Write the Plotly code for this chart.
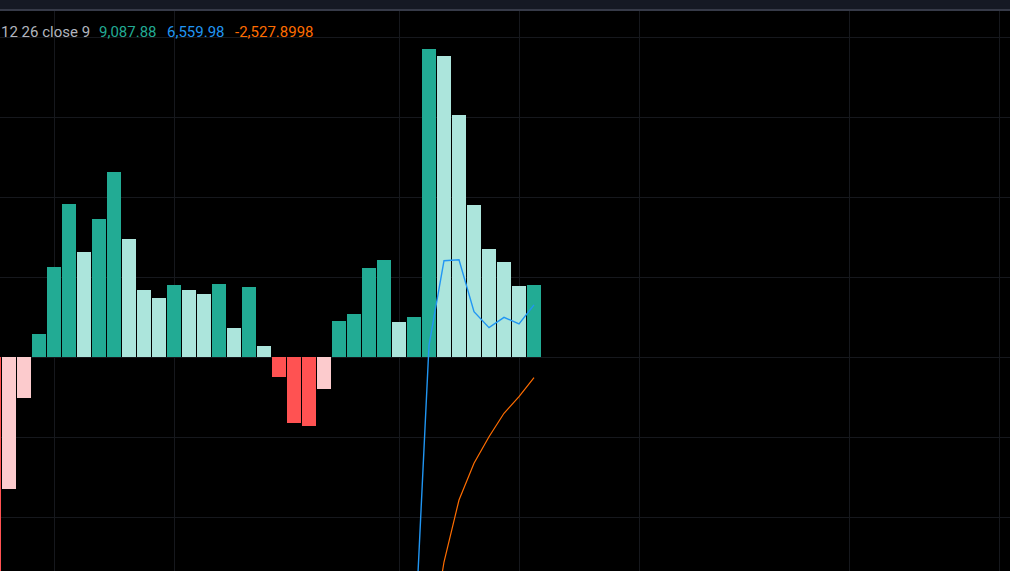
import plotly.graph_objects as go

# ---- data ----
bar_index = list(range(-1, 36))
hist_values = [-30000, -16425, -5050, 2912, 11287, 19162, 13162, 17287, 23162, 14787,
               8412, 7412, 9037, 8412, 7912, 9162, 3662, 8787, 1412, -2425,
               -8175, -8587, -4000, 4537, 5412, 11162, 12162, 4412, 5037, 38537,
               37700, 30287, 19037, 13537, 11912, 8912, 9087.88]
macd_index = list(range(27, 36))
macd_values = [-37300, 1500, 12075, 12200, 5700, 3700, 5000, 4162, 6559.98]
signal_index = list(range(28, 36))
signal_values = [-37037, -25587, -17837, -13250, -9925, -7000, -4925, -2527.8998]
time_grid_bars = [3, 11, 26, 34, 42, 56, 66]
value_grid = [-20000, -10000, 0, 10000, 20000, 30000, 40000]
legend_parts = ["12 26 close 9", "9,087.88", "6,559.98", "-2,527.8998"]

# ---- styles ----
C_GROW_UP = "#22ab94"
C_FALL_UP = "#ace5dc"
C_GROW_DN = "#fccbcd"
C_FALL_DN = "#ff5252"
C_MACD = "#2196f3"
C_SIGNAL = "#ff6d00"

colors = []
prev = None
for v in hist_values:
    if v >= 0:
        c = C_GROW_UP if (prev is None or v > prev) else C_FALL_UP
    else:
        c = C_GROW_DN if (prev is not None and v > prev) else C_FALL_DN
    colors.append(c)
    prev = v

W, H = 1010, 571
TOP = 11
PX_PER_BAR = 15
ZERO_PX = 357.3
UNITS_PER_PX = 125.0

x0 = -1 + (0 - (-6)) / PX_PER_BAR
x1 = -1 + (W - (-6)) / PX_PER_BAR
y_top = (ZERO_PX - TOP) * UNITS_PER_PX
y_bot = (ZERO_PX - H) * UNITS_PER_PX

fig = go.Figure()
fig.add_trace(go.Bar(x=bar_index, y=hist_values, marker=dict(color=colors, line=dict(width=0)),
                     width=14 / 15, hoverinfo="skip"))
fig.add_trace(go.Scatter(x=macd_index, y=macd_values, mode="lines",
                         line=dict(color=C_MACD, width=1.4), hoverinfo="skip"))
fig.add_trace(go.Scatter(x=signal_index, y=signal_values, mode="lines",
                         line=dict(color=C_SIGNAL, width=1.2), hoverinfo="skip"))

grid_color = "#16181d"
fig.update_layout(
    width=W, height=H,
    margin=dict(l=0, r=0, t=TOP, b=0, pad=0),
    paper_bgcolor="#151924",
    plot_bgcolor="#000000",
    showlegend=False,
    bargap=0,
    xaxis=dict(range=[x0, x1], tickvals=time_grid_bars, showticklabels=False,
               showgrid=True, gridcolor=grid_color, gridwidth=1, zeroline=False,
               showline=False, ticks=""),
    yaxis=dict(range=[y_bot, y_top], tickvals=value_grid, showticklabels=False,
               showgrid=True, gridcolor=grid_color, gridwidth=1, zeroline=False,
               showline=False, ticks=""),
)

plot_h = H - TOP
# header border line
fig.add_shape(type="rect", xref="paper", yref="paper", x0=0, x1=1,
              y0=1, y1=1 + 2 / plot_h, fillcolor="#363a48", line=dict(width=0), layer="above")

text_colors = ["#b2b5be", C_GROW_UP, C_MACD, C_SIGNAL]
text_x_px = [-1, 97, 165, 233]
text_y = 1 - (32 - TOP) / plot_h
for txt, col, xp in zip(legend_parts, text_colors, text_x_px):
    fig.add_annotation(text=txt, xref="paper", yref="paper", x=xp / W, y=text_y,
                       xanchor="left", yanchor="middle", showarrow=False,
                       font=dict(family="Roboto, sans-serif", size=15, color=col))

fig.write_html("out.html", config={"displayModeBar": False},
               post_script="document.body.style.margin='0';document.body.style.overflow='hidden';document.body.style.background='#000';")
